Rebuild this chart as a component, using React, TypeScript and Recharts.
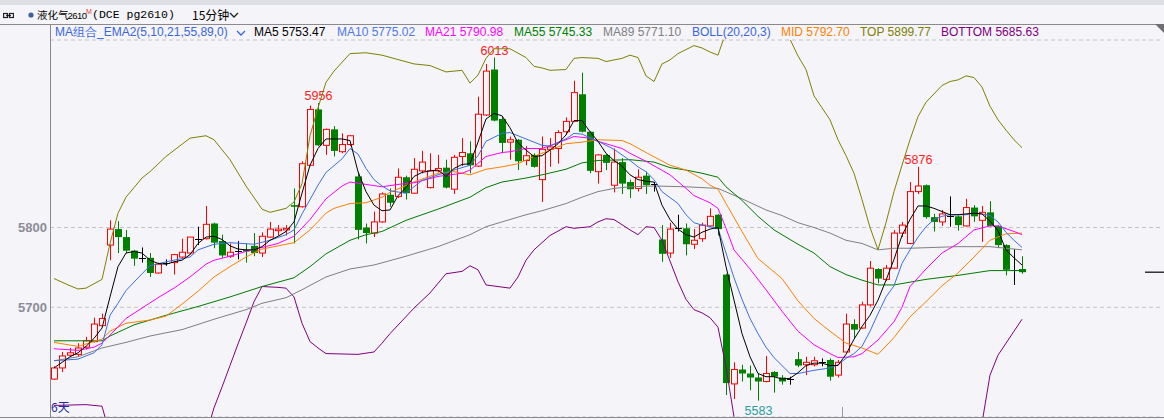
import { ComposedChart, Bar, Line, XAxis, YAxis, CartesianGrid, ReferenceLine } from 'recharts'

// 15-minute candles
const OPEN = [
  5610, 5624, 5640, 5641, 5650, 5657, 5677, 5778, 5798, 5788,
  5771, 5762, 5762, 5743, 5755, 5756, 5763, 5768, 5786, 5786,
  5805, 5783, 5764, 5770, 5772, 5777, 5768, 5788, 5796, 5797,
  5828, 5826, 5878, 5948, 5903, 5923, 5895, 5904, 5864, 5800,
  5793, 5807, 5841, 5839, 5863, 5843, 5871, 5850, 5871, 5875,
  5848, 5889, 5893, 5877, 5941, 5998, 5936, 5907, 5910, 5884,
  5891, 5860, 5898, 5899, 5920, 5933, 5967, 5920, 5870, 5891,
  5853, 5882, 5857, 5849, 5865, 5855, 5785, 5768, 5799, 5799,
  5779, 5786, 5802, 5816, 5741, 5604, 5622, 5617, 5612, 5607,
  5619, 5612, 5610, 5635, 5628, 5628, 5632, 5634, 5615, 5644,
  5679, 5674, 5703, 5748, 5735, 5749, 5793, 5780, 5845, 5853,
  5813, 5807, 5815, 5814, 5802, 5825, 5809, 5819, 5802, 5778,
  5747, 5748,
]
const HIGH = [
  5626, 5644, 5649, 5655, 5663, 5687, 5692, 5809, 5808, 5797,
  5772, 5775, 5768, 5756, 5760, 5767, 5786, 5788, 5801, 5827,
  5806, 5791, 5780, 5783, 5780, 5793, 5794, 5807, 5803, 5803,
  5849, 5883, 5953, 5956, 5924, 5927, 5918, 5916, 5870, 5805,
  5820, 5844, 5849, 5874, 5865, 5887, 5896, 5893, 5891, 5885,
  5891, 5912, 5908, 5964, 6005, 6013, 5939, 5914, 5911, 5902,
  5893, 5914, 5912, 5922, 5938, 5984, 5994, 5921, 5892, 5892,
  5899, 5887, 5860, 5873, 5870, 5857, 5803, 5806, 5816, 5805,
  5798, 5806, 5824, 5817, 5742, 5631, 5628, 5627, 5617, 5639,
  5620, 5615, 5613, 5644, 5638, 5638, 5636, 5636, 5634, 5692,
  5685, 5707, 5758, 5749, 5753, 5797, 5807, 5857, 5876, 5854,
  5817, 5822, 5839, 5815, 5836, 5828, 5827, 5833, 5803, 5779,
  5773, 5764,
]
const LOW = [
  5609, 5619, 5638, 5638, 5647, 5656, 5676, 5759, 5768, 5768,
  5752, 5756, 5738, 5742, 5752, 5741, 5762, 5766, 5778, 5785,
  5774, 5762, 5762, 5760, 5756, 5764, 5763, 5787, 5790, 5790,
  5780, 5825, 5877, 5902, 5891, 5889, 5893, 5902, 5785, 5780,
  5788, 5806, 5826, 5837, 5835, 5842, 5868, 5849, 5869, 5849,
  5842, 5877, 5868, 5876, 5940, 5933, 5893, 5885, 5872, 5878,
  5875, 5832, 5876, 5880, 5916, 5932, 5919, 5868, 5855, 5872,
  5844, 5842, 5837, 5845, 5842, 5845, 5757, 5762, 5795, 5765,
  5773, 5782, 5801, 5790, 5590, 5585, 5607, 5596, 5583, 5606,
  5593, 5603, 5603, 5625, 5615, 5626, 5626, 5608, 5612, 5644,
  5661, 5673, 5701, 5730, 5733, 5748, 5788, 5779, 5842, 5811,
  5795, 5802, 5801, 5796, 5801, 5807, 5782, 5801, 5774, 5740,
  5728, 5742,
]
const CLOSE = [
  5624, 5639, 5643, 5649, 5658, 5679, 5686, 5798, 5788, 5771,
  5761, 5762, 5743, 5754, 5755, 5766, 5769, 5788, 5786, 5804,
  5781, 5765, 5769, 5770, 5770, 5768, 5789, 5798, 5798, 5799,
  5826, 5880, 5948, 5903, 5923, 5896, 5904, 5915, 5797, 5793,
  5807, 5842, 5831, 5863, 5843, 5873, 5882, 5871, 5874, 5850,
  5888, 5894, 5878, 5942, 5996, 5934, 5906, 5910, 5883, 5890,
  5876, 5898, 5901, 5919, 5933, 5969, 5920, 5871, 5891, 5881,
  5882, 5855, 5848, 5863, 5853, 5855, 5767, 5798, 5799, 5779,
  5784, 5803, 5814, 5798, 5605, 5622, 5617, 5612, 5607, 5617,
  5613, 5607, 5610, 5627, 5631, 5633, 5632, 5613, 5631, 5679,
  5672, 5703, 5749, 5736, 5749, 5793, 5803, 5845, 5852, 5813,
  5807, 5817, 5815, 5803, 5825, 5814, 5819, 5802, 5778, 5747,
  5747, 5744,
]

// candles whose high / low is printed on the chart
const MARKS: [number, 'high' | 'low'][] = [[34, 'high'], [56, 'high'], [109, 'high'], [89, 'low']]

// indicator lines, [candle number, value] where read
const MA5: [number, number][] = [
  [1, 5624], [2, 5631], [3, 5638], [4, 5643], [5, 5651], [6, 5661], [7, 5674], [8, 5713], [9, 5751], [10, 5768],
  [11, 5770], [12, 5768], [13, 5759], [14, 5755], [15, 5754], [16, 5757], [17, 5759], [18, 5766], [19, 5780], [20, 5788],
  [21, 5789], [22, 5785], [23, 5777], [24, 5773], [25, 5772], [26, 5772], [27, 5776], [28, 5784], [29, 5789], [30, 5795],
  [31, 5807], [32, 5843], [33, 5878], [34, 5899], [35, 5911], [36, 5911], [37, 5911], [38, 5909], [39, 5870], [40, 5845],
  [41, 5828], [42, 5821], [43, 5822], [44, 5840], [45, 5850], [46, 5864], [47, 5869], [48, 5871], [49, 5872], [50, 5864],
  [51, 5874], [52, 5879], [53, 5880], [54, 5907], [55, 5936], [56, 5943], [57, 5940], [58, 5925], [59, 5906], [60, 5897],
  [61, 5889], [62, 5890], [63, 5897], [64, 5905], [65, 5916], [66, 5934], [67, 5934], [68, 5920], [69, 5908], [70, 5893],
  [71, 5884], [72, 5877], [73, 5866], [74, 5860], [75, 5858], [76, 5857], [77, 5828], [78, 5810], [79, 5798], [80, 5791],
  [81, 5788], [82, 5794], [83, 5798], [84, 5800], [85, 5751], [86, 5709], [87, 5667], [88, 5638], [89, 5617], [90, 5613],
  [91, 5613], [92, 5610], [93, 5611], [94, 5618], [95, 5627], [96, 5630], [97, 5630], [98, 5627], [99, 5627], [100, 5641],
  [101, 5660], [102, 5676], [103, 5690], [104, 5709], [105, 5734], [106, 5760], [107, 5790], [108, 5810], [109, 5827], [110, 5827],
  [111, 5824], [112, 5820], [113, 5816], [114, 5816], [115, 5817], [116, 5818], [117, 5817], [118, 5808], [119, 5796], [120, 5772],
  [121, 5762], [122, 5753],
]
const MA10: [number, number][] = [
  [1, 5633], [4, 5635], [6, 5643], [7, 5653], [8, 5690], [9, 5705], [10, 5721], [12, 5742], [13, 5752], [15, 5757],
  [18, 5763], [19, 5772], [21, 5779], [23, 5781], [26, 5779], [28, 5784], [30, 5791], [31, 5797], [32, 5817], [34, 5853],
  [35, 5869], [37, 5886], [38, 5899], [39, 5892], [40, 5874], [41, 5860], [42, 5852], [43, 5846], [45, 5843], [47, 5859],
  [49, 5866], [51, 5872], [53, 5878], [54, 5890], [55, 5908], [57, 5918], [58, 5919], [60, 5911], [62, 5903], [63, 5902],
  [65, 5911], [66, 5918], [67, 5917], [69, 5908], [71, 5898], [73, 5884], [74, 5876], [75, 5870], [76, 5860], [77, 5845],
  [79, 5830], [80, 5816], [81, 5806], [82, 5803], [83, 5801], [84, 5799], [85, 5768], [86, 5737], [87, 5710], [88, 5686],
  [89, 5667], [90, 5650], [91, 5637], [92, 5627], [93, 5617], [94, 5617], [96, 5621], [98, 5624], [99, 5628], [100, 5636],
  [101, 5642], [102, 5651], [103, 5670], [104, 5692], [105, 5713], [106, 5727], [107, 5755], [108, 5772], [109, 5788], [110, 5801],
  [111, 5810], [112, 5814], [113, 5816], [115, 5816], [116, 5818], [117, 5817], [118, 5815], [119, 5807], [120, 5794], [121, 5784],
  [122, 5775],
]
const MA21: [number, number][] = [
  [1, 5648], [4, 5646], [6, 5650], [7, 5655], [8, 5665], [10, 5686], [12, 5699], [14, 5712], [16, 5724], [18, 5738],
  [20, 5754], [21, 5759], [23, 5764], [25, 5770], [27, 5775], [29, 5780], [31, 5789], [33, 5810], [35, 5836], [37, 5852],
  [38, 5857], [40, 5854], [42, 5851], [44, 5854], [46, 5856], [49, 5864], [52, 5868], [53, 5872], [55, 5889], [57, 5894],
  [58, 5895], [60, 5899], [62, 5899], [65, 5910], [66, 5914], [68, 5912], [69, 5908], [72, 5899], [73, 5893], [75, 5883],
  [78, 5866], [80, 5849], [81, 5840], [83, 5831], [84, 5824], [85, 5799], [86, 5772], [88, 5748], [90, 5722], [92, 5695],
  [94, 5670], [96, 5653], [98, 5642], [99, 5637], [101, 5638], [102, 5642], [104, 5659], [106, 5682], [107, 5700], [108, 5726],
  [110, 5748], [112, 5768], [114, 5780], [116, 5797], [118, 5802], [119, 5802], [121, 5795], [122, 5791],
]
const MA55: [number, number][] = [
  [1, 5658], [7, 5658], [8, 5664], [11, 5678], [15, 5690], [19, 5701], [21, 5707], [23, 5713], [27, 5726], [31, 5737],
  [33, 5751], [35, 5767], [38, 5784], [40, 5791], [42, 5795], [45, 5809], [49, 5823], [53, 5838], [55, 5850], [57, 5857],
  [60, 5862], [62, 5866], [65, 5873], [67, 5881], [69, 5884], [73, 5885], [76, 5882], [78, 5875], [80, 5872], [82, 5868],
  [84, 5863], [85, 5851], [87, 5834], [89, 5814], [91, 5797], [94, 5779], [96, 5768], [98, 5751], [100, 5741], [102, 5734],
  [104, 5728], [106, 5728], [110, 5735], [114, 5740], [118, 5746], [122, 5746],
]
const MA89: [number, number][] = [
  [1, 5633], [4, 5638], [7, 5649], [10, 5656], [13, 5664], [17, 5672], [21, 5685], [25, 5697], [27, 5705], [30, 5712],
  [32, 5722], [35, 5738], [38, 5748], [41, 5753], [45, 5764], [49, 5776], [53, 5791], [55, 5801], [57, 5807], [60, 5816],
  [62, 5821], [65, 5830], [67, 5838], [69, 5845], [71, 5849], [73, 5851], [76, 5852], [80, 5851], [84, 5849], [87, 5836],
  [90, 5822], [92, 5815], [94, 5806], [96, 5800], [98, 5793], [100, 5784], [102, 5780], [104, 5772], [106, 5774],
  [108, 5774], [114, 5776], [118, 5776], [122, 5772],
]
const MID: [number, number][] = [
  [1, 5656], [4, 5651], [7, 5660], [8, 5670], [10, 5680], [13, 5684], [15, 5689], [17, 5704], [19, 5720], [21, 5738],
  [23, 5751], [25, 5763], [27, 5773], [29, 5777], [31, 5781], [33, 5797], [35, 5818], [36, 5824], [38, 5830], [40, 5831],
  [42, 5838], [43, 5844], [46, 5857], [49, 5868], [51, 5870], [53, 5866], [55, 5873], [57, 5876], [59, 5880], [61, 5889],
  [63, 5897], [65, 5905], [67, 5907], [69, 5910], [72, 5909], [73, 5905], [75, 5894], [78, 5878], [80, 5872], [82, 5861],
  [83, 5853], [84, 5848], [85, 5830], [87, 5795], [89, 5761], [92, 5736], [94, 5708], [96, 5686], [98, 5670], [100, 5655],
  [102, 5649], [104, 5641], [106, 5662], [108, 5688], [110, 5707], [112, 5727], [114, 5743], [116, 5763], [118, 5784], [120, 5792],
  [122, 5793],
]
const TOP: [number, number][] = [
  [1, 5736], [3, 5727], [4, 5723], [5, 5724], [7, 5735], [8, 5780], [9, 5818], [10, 5838], [11, 5850], [12, 5862],
  [13, 5870], [15, 5889], [18, 5912], [20, 5915], [21, 5910], [23, 5885], [25, 5852], [27, 5823], [28, 5819], [30, 5824],
  [31, 5832], [32, 5855], [33, 5915], [34, 5950], [35, 5982], [36, 5996], [38, 6018], [40, 6019], [42, 6016], [46, 6005],
  [48, 6003], [50, 5995], [52, 5997], [53, 5981], [54, 5991], [55, 6012], [56, 6024], [58, 6024], [60, 6013], [61, 6002],
  [62, 6000], [63, 5997], [65, 5998], [66, 6012], [67, 6013], [69, 6012], [70, 6008], [72, 6012], [73, 6016], [74, 6013],
  [75, 5990], [76, 5983], [77, 6005], [78, 6010], [79, 6018], [81, 6028], [82, 6025], [83, 6020], [84, 6016], [85, 6045],
  [86, 6060], [89, 6080], [92, 6060], [93, 6036], [94, 6015], [95, 5998], [96, 5965], [97, 5950], [98, 5935], [99, 5910],
  [100, 5890], [101, 5868], [102, 5835], [103, 5800], [104, 5772], [105, 5806], [106, 5845], [107, 5878], [108, 5910], [109, 5939],
  [110, 5957], [112, 5978], [113, 5983], [114, 5985], [115, 5990], [116, 5988], [117, 5976], [118, 5952], [119, 5935], [120, 5922],
  [121, 5910], [122, 5900],
]
const BOTTOM: [number, number][] = [
  [1, 5577], [5, 5578], [7, 5576], [8, 5540], [14, 5520], [20, 5540], [21, 5574], [22, 5600], [23, 5627], [24, 5654],
  [25, 5680], [26, 5707], [27, 5726], [29, 5725], [30, 5724], [31, 5713], [32, 5680], [33, 5657], [34, 5649], [35, 5642],
  [39, 5641], [41, 5644], [42, 5655], [43, 5667], [46, 5699], [48, 5718], [50, 5742], [52, 5745], [53, 5752], [54, 5747],
  [55, 5728], [58, 5724], [59, 5738], [60, 5759], [61, 5772], [63, 5790], [65, 5801], [66, 5799], [68, 5801], [69, 5807],
  [70, 5811], [71, 5810], [73, 5797], [74, 5791], [75, 5801], [76, 5800], [77, 5784], [78, 5758], [79, 5732], [80, 5710],
  [81, 5697], [82, 5693], [83, 5687], [84, 5675], [85, 5625], [86, 5563], [87, 5530], [100, 5480], [116, 5520], [117, 5555],
  [118, 5615], [119, 5640], [120, 5655], [121, 5670], [122, 5685],
]

const SERIES = [
  { key: 'top', pts: TOP, color: '#808000' },
  { key: 'bottom', pts: BOTTOM, color: '#800080' },
  { key: 'ma89', pts: MA89, color: '#808080' },
  { key: 'ma55', pts: MA55, color: '#007a00' },
  { key: 'mid', pts: MID, color: '#ff8000' },
  { key: 'ma21', pts: MA21, color: '#ff00ff' },
  { key: 'ma10', pts: MA10, color: '#3d6fe0' },
  { key: 'ma5', pts: MA5, color: '#000000' },
]

const LEGEND: [number, string, string][] = [
  [55, 'MA组合_EMA2(5,10,21,55,89,0)', '#3a66dd'],
  [254, 'MA5 5753.47', '#000000'],
  [337, 'MA10 5775.02', '#4f78e6'],
  [425, 'MA21 5790.98', '#ff00ff'],
  [514, 'MA55 5745.33', '#008000'],
  [603, 'MA89 5771.10', '#808080'],
  [692, 'BOLL(20,20,3)', '#3a66dd'],
  [781, 'MID 5792.70', '#ff8000'],
  [860, 'TOP 5899.77', '#808000'],
  [941, 'BOTTOM 5685.63', '#800080'],
]

const SLOTS = 139
const DAY_BREAKS = [100]
const BG = '#f4f4f9'
const UP = '#ff0000'
const DOWN = '#008000'

const rows = Array.from({ length: SLOTS }, (_, k) => {
  const i = k + 1
  const row: Record<string, any> = { i }
  if (k < OPEN.length) {
    row.open = OPEN[k]
    row.high = HIGH[k]
    row.low = LOW[k]
    row.close = CLOSE[k]
    row.range = [LOW[k], HIGH[k]]
    const m = MARKS.find((mk) => mk[0] === i)
    if (m) row.mark = m[1]
  }
  for (const s of SERIES) {
    const p = s.pts.find((pt) => pt[0] === i)
    if (p) row[s.key] = p[1]
  }
  return row
})

function Candle(props: any) {
  const { x, y, width, height, payload } = props
  if (!payload || payload.open == null) return <g />
  const { open, high, low, close, mark } = payload
  const top = height >= 0 ? y : y + height
  const h = Math.abs(height)
  const k = high > low ? h / (high - low) : 0
  const py = (v: number) => top + (high - v) * k
  const cx = Math.round(x + width / 2)
  const wx = cx + 0.5
  const yH = py(high)
  const yL = py(low)
  const bTop = py(Math.max(open, close))
  const bBot = py(Math.min(open, close))
  let body
  if (close === open) {
    body = (
      <g stroke="#000" strokeWidth={1}>
        <line x1={wx} x2={wx} y1={yH} y2={yL} />
        <line x1={cx - 3} x2={cx + 4} y1={Math.round(bTop) + 0.5} y2={Math.round(bTop) + 0.5} />
      </g>
    )
  } else if (close > open) {
    body = (
      <g stroke={UP} strokeWidth={1}>
        <line x1={wx} x2={wx} y1={yH} y2={bTop} />
        <line x1={wx} x2={wx} y1={bBot} y2={yL} />
        <rect x={cx - 2.5} y={bTop} width={6} height={Math.max(1, bBot - bTop)} fill={BG} />
      </g>
    )
  } else {
    body = (
      <g>
        <line x1={wx} x2={wx} y1={yH} y2={yL} stroke={DOWN} strokeWidth={1} />
        <rect x={cx - 3} y={bTop} width={7} height={Math.max(1, bBot - bTop)} fill={DOWN} />
      </g>
    )
  }
  return (
    <g>
      {body}
      {mark === 'high' && (
        <text x={cx + 0.5} y={yH - 3} textAnchor="middle" fontSize={12.5} fill="#ff2020" fontFamily="Liberation Sans, Arial">
          {high}
        </text>
      )}
      {mark === 'low' && (
        <text x={cx + 0.5} y={yL + 14} textAnchor="middle" fontSize={12.5} fill="#2a9d9d" fontFamily="Liberation Sans, Arial">
          {low}
        </text>
      )}
    </g>
  )
}

function Chevron({ left, top, color }: { left: number; top: number; color: string }) {
  return (
    <svg style={{ position: 'absolute', left, top }} width={10} height={7}>
      <polyline points="1,1 5,5 9,1" fill="none" stroke={color} strokeWidth={1.3} />
    </svg>
  )
}

const head = (left: number, top: number, size: number, family: string, extra: object = {}) =>
  ({ position: 'absolute', left, top, fontSize: size, lineHeight: '14px', fontFamily: family, color: '#000', whiteSpace: 'nowrap', ...extra }) as const

export default function App() {
  const last = CLOSE[CLOSE.length - 1]
  return (
    <div
      style={{
        position: 'fixed', left: 0, top: 0, width: 1164, height: 420, overflow: 'hidden',
        background: BG, fontFamily: '"Liberation Sans", Arial, sans-serif',
      }}
    >
      <div style={{ position: 'absolute', left: 0, top: 0 }}>
        <ComposedChart width={1164} height={420} data={rows} margin={{ top: 40, right: 2, bottom: 3, left: 0 }}>
          <CartesianGrid vertical={false} stroke="#c4c4c8" strokeDasharray="4 3" />
          <XAxis dataKey="i" type="category" hide />
          <YAxis
            type="number"
            width={50}
            domain={[5562.5, 6035]}
            allowDataOverflow
            ticks={[5700, 5800]}
            axisLine={false}
            tickLine={false}
            tickSize={0}
            tickMargin={3}
            tick={{ fill: '#8c8c9a', fontSize: 13, fontWeight: 700, fontFamily: 'Liberation Sans, Arial' }}
          />
          <Bar dataKey="range" shape={Candle} isAnimationActive={false} />
          {SERIES.map((s) => (
            <Line
              key={s.key}
              type="linear"
              dataKey={s.key}
              stroke={s.color}
              strokeWidth={1}
              dot={false}
              activeDot={false}
              connectNulls
              isAnimationActive={false}
            />
          ))}
          <ReferenceLine
            y={last}
            shape={(p: any) => (
              <line x1={Math.max(p.x1, p.x2) - 17} x2={Math.max(p.x1, p.x2) + 2} y1={p.y1} y2={p.y2} stroke="#000" strokeWidth={1.2} />
            )}
          />
          {DAY_BREAKS.map((d) => (
            <ReferenceLine
              key={d}
              x={d}
              shape={(p: any) => {
                const yb = Math.max(p.y1, p.y2)
                return <line x1={p.x1 - 3.5} x2={p.x1 - 3.5} y1={yb - 10} y2={yb} stroke="#9a9aa4" strokeWidth={1} />
              }}
            />
          ))}
        </ComposedChart>
      </div>

      <div style={{ position: 'absolute', left: 0, top: 0, width: 1164, height: 5, background: '#dedee5' }} />

      <svg style={{ position: 'absolute', left: 3, top: 12 }} width={11} height={7}>
        <rect x={0.5} y={1.5} width={4} height={4} fill="none" stroke="#222" strokeWidth={1.2} />
        <rect x={6.5} y={1.5} width={4} height={4} fill="none" stroke="#222" strokeWidth={1.2} />
        <line x1={3} x2={8} y1={3.5} y2={3.5} stroke="#222" strokeWidth={1.2} />
      </svg>
      <svg style={{ position: 'absolute', left: 28, top: 12 }} width={6} height={6}>
        <circle cx={3} cy={3} r={2.6} fill="#3f5f9f" />
      </svg>
      <span style={head(37, 8, 10.5, '"Noto Sans CJK SC"')}>液化气</span>
      <span style={head(67.5, 8.5, 9.5, '"Liberation Sans"', { letterSpacing: -0.5 })}>2610</span>
      <span style={head(86, 5, 7, '"Liberation Sans"', { color: '#e04040' })}>M</span>
      <span style={head(92, 8, 11.5, '"Liberation Mono"')}>(DCE pg2610)</span>
      <span style={head(192, 7.5, 12, '"Noto Sans CJK SC"')}>15分钟</span>
      <Chevron left={229} top={12} color="#222" />

      <div style={{ position: 'absolute', left: 0, top: 24, width: 1164, height: 1, background: '#8a8a8e' }} />
      <svg style={{ position: 'absolute', left: 1155, top: 24 }} width={9} height={9}>
        <polygon points="0,0 9,0 9,9" fill="#6f6f74" />
      </svg>

      {LEGEND.map(([left, text, color]) => (
        <span
          key={text}
          style={{ position: 'absolute', left, top: 25, fontSize: 12, lineHeight: '15px', color, whiteSpace: 'nowrap', fontFamily: '"Liberation Sans", Arial' }}
        >
          {text}
        </span>
      ))}
      <Chevron left={236} top={30} color="#3a66dd" />

      <div style={{ position: 'absolute', left: 50, top: 24, width: 1, height: 394, background: '#8a8a8e' }} />
      <div style={{ position: 'absolute', left: 0, top: 417, width: 1164, height: 1, background: '#8a8a8e' }} />
      <span style={{ position: 'absolute', left: 51, top: 400, fontSize: 12, lineHeight: '14px', color: '#1f2a9a', fontFamily: '"Noto Sans CJK SC"' }}>
        6天
      </span>
    </div>
  )
}
